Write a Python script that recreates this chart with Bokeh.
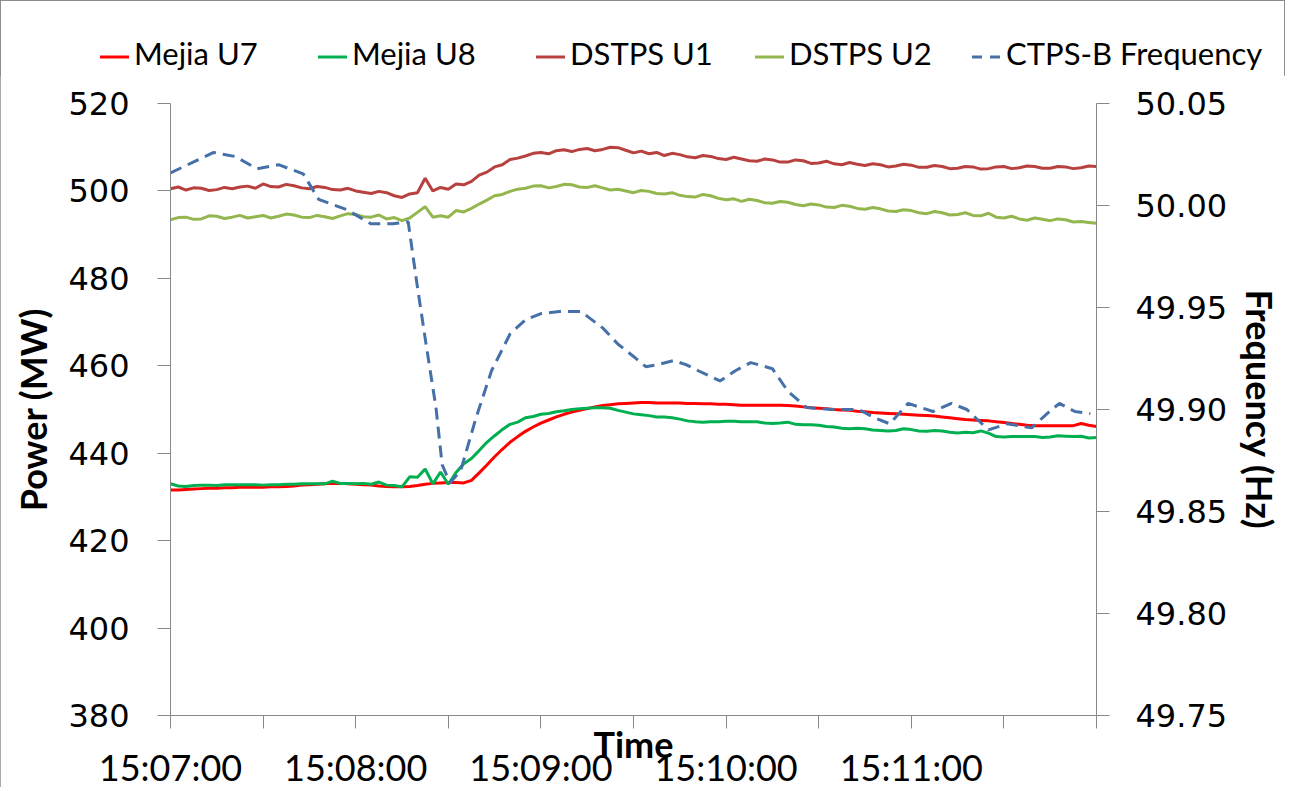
from bokeh.plotting import figure
from bokeh.layouts import column
from bokeh.models import (Range1d, LinearAxis, FixedTicker, NumeralTickFormatter, Div)
from bokeh.embed import file_html
from bokeh.resources import INLINE

# ---- data (seconds after 15:07:00, 2.5 s samples) ----
time_s = [i * 2.5 for i in range(121)]

mejia_u7 = [
    431.6, 431.6, 431.7, 431.8, 431.9, 432.0, 432.0, 432.1, 432.1, 432.2,
    432.2, 432.2, 432.2, 432.3, 432.3, 432.4, 432.5, 432.7, 432.8, 432.9,
    433.0, 433.1, 433.1, 433.0, 432.9, 432.8, 432.7, 432.5, 432.4, 432.3,
    432.3, 432.4, 432.6, 432.9, 433.1, 433.2, 433.3, 433.3, 433.2, 433.8,
    435.5, 437.3, 439.2, 440.9, 442.5, 443.8, 445.0, 446.0, 446.9, 447.6,
    448.3, 448.9, 449.4, 449.8, 450.2, 450.6, 450.9, 451.1, 451.3, 451.4,
    451.5, 451.6, 451.6, 451.5, 451.5, 451.5, 451.5, 451.4, 451.4, 451.3,
    451.3, 451.2, 451.2, 451.1, 451.0, 451.0, 451.0, 451.0, 451.0, 451.0,
    450.9, 450.8, 450.6, 450.4, 450.3, 450.2, 450.0, 449.9, 449.8, 449.6,
    449.5, 449.3, 449.2, 449.1, 449.0, 448.9, 448.8, 448.7, 448.6, 448.5,
    448.3, 448.1, 447.9, 447.7, 447.6, 447.5, 447.4, 447.2, 447.0, 446.8,
    446.6, 446.4, 446.3, 446.3, 446.3, 446.3, 446.3, 446.3, 446.8, 446.4,
    446.1]

mejia_u8 = [
    433.0, 432.5, 432.4, 432.6, 432.7, 432.7, 432.6, 432.8, 432.8, 432.8,
    432.8, 432.8, 432.7, 432.8, 432.8, 432.9, 432.9, 433.0, 433.0, 433.0,
    433.0, 433.6, 433.1, 433.1, 433.0, 433.1, 432.9, 433.4, 432.7, 432.6,
    432.3, 434.6, 434.5, 436.4, 433.0, 435.7, 432.9, 435.6, 437.6, 438.8,
    440.6, 442.5, 444.0, 445.4, 446.6, 447.1, 448.1, 448.4, 448.9, 449.1,
    449.5, 449.7, 450.0, 450.2, 450.3, 450.4, 450.4, 450.3, 449.8, 449.4,
    449.0, 448.8, 448.6, 448.3, 448.3, 448.1, 447.8, 447.4, 447.2, 447.1,
    447.2, 447.2, 447.3, 447.3, 447.2, 447.2, 447.2, 446.9, 446.8, 446.9,
    447.1, 446.6, 446.5, 446.5, 446.4, 446.1, 446.0, 445.7, 445.6, 445.7,
    445.6, 445.3, 445.2, 445.1, 445.2, 445.6, 445.4, 445.1, 445.0, 445.2,
    445.1, 444.8, 444.6, 444.8, 444.7, 445.1, 444.6, 443.8, 443.7, 443.8,
    443.8, 443.8, 443.8, 443.6, 443.7, 444.0, 443.9, 443.8, 443.9, 443.5,
    443.6]

dstps_u1 = [
    500.5, 500.9, 500.2, 500.7, 500.6, 500.1, 500.3, 500.8, 500.5, 500.9,
    501.1, 500.6, 501.6, 501.0, 500.9, 501.5, 501.2, 500.7, 500.5, 501.0,
    500.8, 500.3, 500.2, 500.6, 500.0, 499.7, 499.4, 499.9, 499.6, 498.9,
    498.5, 499.3, 499.6, 502.9, 500.0, 500.8, 500.4, 501.6, 501.4, 502.2,
    503.6, 504.3, 505.5, 506.0, 507.2, 507.5, 508.0, 508.6, 508.8, 508.5,
    509.2, 509.4, 509.0, 509.5, 509.7, 509.2, 509.5, 510.0, 509.9, 509.3,
    508.7, 509.1, 508.5, 508.8, 508.1, 508.6, 508.3, 507.8, 507.6, 508.1,
    507.9, 507.4, 507.2, 507.7, 507.3, 506.9, 506.8, 507.3, 507.1, 506.6,
    506.6, 507.1, 506.9, 506.3, 506.4, 506.8, 506.2, 506.0, 506.5, 506.1,
    505.8, 506.2, 506.0, 505.5, 505.7, 506.1, 505.9, 505.4, 505.4, 505.8,
    505.6, 505.1, 505.2, 505.6, 505.5, 505.0, 505.1, 505.5, 505.6, 505.1,
    505.3, 505.7, 505.6, 505.2, 505.2, 505.6, 505.5, 505.1, 505.3, 505.7,
    505.6]

dstps_u2 = [
    493.4, 493.9, 494.0, 493.5, 493.6, 494.3, 494.2, 493.7, 494.0, 494.4,
    493.8, 494.1, 494.4, 493.8, 494.2, 494.7, 494.5, 494.0, 493.9, 494.4,
    494.1, 493.7, 494.3, 494.8, 494.6, 494.1, 494.0, 494.5, 493.6, 493.9,
    493.2, 493.8, 495.1, 496.4, 494.0, 494.3, 494.0, 495.5, 495.2, 496.0,
    497.0, 497.9, 498.9, 499.2, 499.9, 500.4, 500.6, 501.1, 501.2, 500.7,
    501.0, 501.5, 501.4, 500.9, 500.8, 501.2, 500.7, 500.2, 500.4, 500.0,
    499.6, 500.1, 499.9, 499.4, 499.3, 499.6, 499.0, 498.7, 498.6, 499.2,
    498.9, 498.3, 498.0, 498.2, 497.6, 498.1, 497.8, 497.3, 497.2, 497.6,
    497.4, 496.9, 496.6, 497.0, 496.8, 496.3, 496.2, 496.7, 496.5, 496.0,
    495.8, 496.2, 495.9, 495.4, 495.3, 495.7, 495.5, 495.0, 494.8, 495.3,
    495.0, 494.5, 494.6, 495.0, 494.4, 494.3, 494.9, 494.0, 493.8, 494.2,
    493.6, 493.3, 493.8, 493.5, 493.2, 493.6, 493.4, 492.9, 493.0, 492.8,
    492.6]

freq_t = [0, 7, 14, 21, 28, 35, 43, 48, 57, 65,
          72, 77, 80, 83, 86, 88, 90.5, 94, 99, 104,
          110, 115, 120, 126, 133, 140, 145, 150, 154, 158,
          163, 167, 171, 178, 183, 188, 195, 200, 206, 214,
          223, 228, 233, 239, 247, 253, 258, 265, 271, 279,
          284, 288, 293, 298]
freq_hz = [50.016, 50.021, 50.026, 50.024, 50.018, 50.020, 50.0155, 50.003, 49.998, 49.991,
           49.991, 49.992, 49.960, 49.930, 49.901, 49.873, 49.864, 49.870, 49.896, 49.919,
           49.937, 49.944, 49.947, 49.948, 49.948, 49.940, 49.932, 49.926, 49.921, 49.922,
           49.924, 49.922, 49.919, 49.914, 49.919, 49.923, 49.920, 49.909, 49.901, 49.900,
           49.900, 49.896, 49.893, 49.903, 49.899, 49.903, 49.900, 49.890, 49.893, 49.891,
           49.898, 49.903, 49.899, 49.898]

x_tick_pos = [0, 30, 60, 90, 120, 150, 180, 210, 240, 270, 300]
x_tick_labels = ["15:07:00", "", "15:08:00", "", "15:09:00", "", "15:10:00", "", "15:11:00", "", ""]
power_ticks = [380, 400, 420, 440, 460, 480, 500, 520]
freq_ticks = [49.75, 49.80, 49.85, 49.90, 49.95, 50.00, 50.05]

series_names = ["Mejia U7", "Mejia U8", "DSTPS U1", "DSTPS U2", "CTPS-B Frequency"]
series_colors = ["#FF0000", "#00B050", "#B8403E", "#94B64E", "#4570A8"]
series_dash = ["solid", "solid", "solid", "solid", "12 7"]

AXIS_GREY = "#888888"
W = 1285
LEG_H = 75

# ---------------- main chart ----------------
p = figure(width=W, height=787 - LEG_H, output_backend="svg", toolbar_location=None,
           x_range=Range1d(0, 300), y_range=Range1d(380, 520),
           min_border_left=170, min_border_right=187, min_border_top=103 - LEG_H,
           min_border_bottom=72)
p.extra_y_ranges = {"freq": Range1d(49.75, 50.05)}
p.xgrid.visible = False
p.ygrid.visible = False
p.outline_line_color = None
p.background_fill_color = "white"
p.border_fill_color = "white"

xa = p.xaxis[0]
xa.ticker = FixedTicker(ticks=x_tick_pos)
xa.major_label_overrides = {k: v for k, v in zip(x_tick_pos, x_tick_labels)}
xa.major_label_text_font = "Lato"
xa.major_label_text_font_size = "36px"
xa.major_label_text_color = "black"
xa.major_label_standoff = 16
xa.axis_label = "Time"
xa.axis_label_text_font = "Lato"
xa.axis_label_text_font_style = "bold"
xa.axis_label_text_font_size = "36px"
xa.axis_label_text_color = "black"
xa.axis_label_standoff = -70

ya = p.yaxis[0]
ya.ticker = FixedTicker(ticks=power_ticks)
ya.major_label_text_font = "DejaVu Sans"
ya.major_label_text_font_size = "32px"
ya.major_label_text_color = "black"
ya.major_label_standoff = 28
ya.axis_label = "Power (MW)"
ya.axis_label_text_font = "Lato"
ya.axis_label_text_font_style = "bold"
ya.axis_label_text_font_size = "36px"
ya.axis_label_text_color = "black"
ya.axis_label_standoff = 10

ra = LinearAxis(y_range_name="freq", ticker=FixedTicker(ticks=freq_ticks),
                formatter=NumeralTickFormatter(format="0.00"))
ra.major_label_text_font = "DejaVu Sans"
ra.major_label_text_font_size = "32px"
ra.major_label_text_color = "black"
ra.major_label_standoff = 26
ra.axis_label = "Frequency (Hz)"
ra.axis_label_text_font = "Lato"
ra.axis_label_text_font_style = "bold"
ra.axis_label_text_font_size = "36px"
ra.axis_label_text_color = "black"
ra.axis_label_standoff = 8
p.add_layout(ra, "right")

for ax in (xa, ya, ra):
    ax.axis_line_color = AXIS_GREY
    ax.axis_line_width = 1
    ax.major_tick_line_color = AXIS_GREY
    ax.major_tick_in = 0
    ax.major_tick_out = 13
    ax.minor_tick_line_color = None

p.line(time_s, mejia_u7, line_color=series_colors[0], line_width=3)
p.line(time_s, mejia_u8, line_color=series_colors[1], line_width=3)
p.line(time_s, dstps_u1, line_color=series_colors[2], line_width=3)
p.line(time_s, dstps_u2, line_color=series_colors[3], line_width=3)
p.line(freq_t, freq_hz, y_range_name="freq", line_color=series_colors[4],
       line_width=3, line_dash=series_dash[4])

# ---------------- legend strip (HTML) ----------------
legend_left = [100, 318, 536, 755, 972]
parts = []
for name, col, dash, left in zip(series_names, series_colors, series_dash, legend_left):
    dash_attr = '' if dash == "solid" else ' stroke-dasharray="10 8"'
    swatch = ('<svg width="29" height="6" style="vertical-align:middle;margin-right:5px">'
              f'<line x1="0" y1="3" x2="29" y2="3" stroke="{col}" stroke-width="3"{dash_attr}/></svg>')
    parts.append(f'<div style="position:absolute;left:{left}px;top:38px;white-space:nowrap;'
                 f'line-height:1;">{swatch}<span>{name}</span></div>')
legend_html = ('<div style="position:relative;width:%dpx;height:%dpx;font-family:Lato;'
               'font-size:31px;color:black;">%s</div>' % (W, LEG_H, "".join(parts)))
leg = Div(text=legend_html, width=W, height=LEG_H, styles={"padding": "0", "margin": "0"})

layout = column(leg, p, spacing=0)
layout.styles = {"outline": "1px solid #8c8c8c", "outline-offset": "-1px"}

open("out.html", "w").write(file_html(layout, INLINE))
